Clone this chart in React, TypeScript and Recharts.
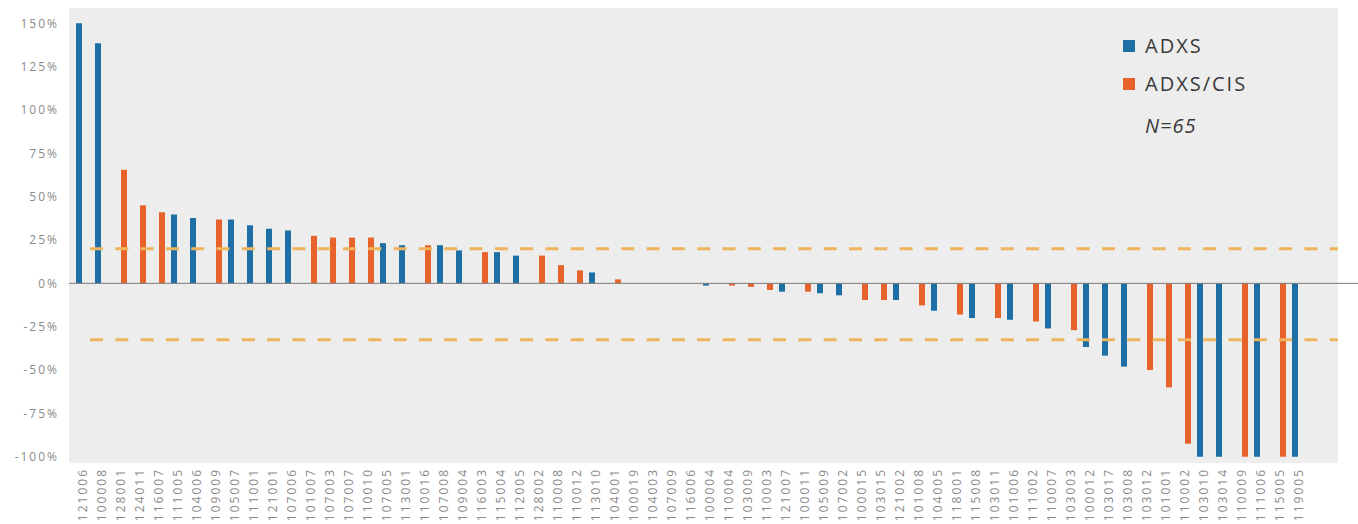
import React from 'react';
import { BarChart, Bar, XAxis, YAxis, CartesianGrid, ReferenceLine, Legend } from 'recharts';

const patients = [
  '121006', '100008', '128001', '124011', '116007', '111005', '104006', '109009', '105007', '111001',
  '121001', '107006', '101007', '107003', '107007', '110010', '107005', '113001', '110016', '107008',
  '109004', '116003', '115004', '112005', '128002', '110008', '110012', '113010', '104001', '100019',
  '104003', '107009', '116006', '100004', '110004', '103009', '110003', '121007', '100011', '105009',
  '107002', '100015', '103015', '121002', '101008', '104005', '118001', '115008', '103011', '101006',
  '111002', '110007', '103003', '100012', '103017', '103008', '103012', '101001', '110002', '103010',
  '103014', '110009', '111006', '115005', '119005',
];

const adxs: (number | null)[] = [
  150, 138.5, null, null, null, 39.7, 37.7, null, 36.8, 33.5,
  31.5, 30.5, null, null, null, null, 23.2, 22, null, 22,
  19, null, 18, 16, null, null, null, 6.3, null, 0,
  0, 0, 0, -1.3, null, null, null, -4.8, null, -5.7,
  -6.9, null, null, -9.6, null, -15.8, null, -20, null, -21,
  null, -26, null, -36.7, -41.7, -48, null, null, null, -100,
  -100, null, -100, null, -100,
];

const adxsCis: (number | null)[] = [
  null, null, 65.5, 45, 41, null, null, 36.8, null, null,
  null, null, 27.4, 26.4, 26.4, 26.4, null, null, 22, null,
  null, 18, null, null, 16, 10.5, 7.5, null, 2.3, null,
  null, null, null, null, -1.3, -2, -3.8, null, -4.8, null,
  null, -9.6, -9.6, null, -12.7, null, -18, null, -20, null,
  -22, null, -27, null, null, null, -50, -60, -92.5, null,
  null, -100, null, -100, null,
];

const yTicks = [-100, -75, -50, -25, 0, 25, 50, 75, 100, 125, 150];
const upperThreshold = 20;
const lowerThreshold = -32.5;
const seriesNames = ['ADXS', 'ADXS/CIS'];
const sampleNote = 'N=65';

const BLUE = '#1D6FA5';
const ORANGE = '#E8622C';
const DASH = '#EFB45E';
const TICK = '#8a8a8a';

const data = patients.map((p, i) => ({ patient: p, adxs: adxs[i], adxsCis: adxsCis[i] }));

const RotatedTick = (props: any) => {
  const { x, y, payload } = props;
  return (
    <text
      x={x}
      y={y}
      transform={`rotate(-90, ${x}, ${y})`}
      textAnchor="end"
      dy="0.35em"
      fill={TICK}
      fontSize={12}
      fontFamily="'Open Sans', sans-serif"
      style={{ letterSpacing: '2px' }}
    >
      {payload.value}
    </text>
  );
};

const ZeroLine = (p: any) => (
  <line x1={p.x1} y1={p.y1} x2={p.x2 + 20} y2={p.y2} stroke="#7a7a7a" strokeWidth={1} />
);

const DashLine = (p: any) => (
  <line
    x1={p.x1 + 21}
    y1={p.y1}
    x2={p.x2}
    y2={p.y2}
    stroke={DASH}
    strokeWidth={3}
    strokeDasharray="13 12.3"
  />
);

const LegendContent = () => (
  <div
    style={{
      fontFamily: "'Open Sans', sans-serif",
      fontSize: 20,
      letterSpacing: '2px',
      color: '#3a3a3a',
      lineHeight: '38px',
    }}
  >
    {seriesNames.map((n, i) => (
      <div key={n} style={{ display: 'flex', alignItems: 'center', height: 38 }}>
        <span
          style={{
            display: 'inline-block',
            width: 12,
            height: 12,
            background: i === 0 ? BLUE : ORANGE,
            marginRight: 10,
          }}
        />
        <span>{n}</span>
      </div>
    ))}
    <div style={{ fontStyle: 'italic', paddingLeft: 22, marginTop: 4, letterSpacing: '1px' }}>{sampleNote}</div>
  </div>
);

export default function App() {
  return (
    <div style={{ position: 'absolute', left: 0, top: 0, width: 1358, height: 524, background: '#ffffff' }}>
      <BarChart
        width={1358}
        height={524}
        data={data}
        margin={{ top: 8, right: 20, bottom: 0, left: 0 }}
        barGap={1}
      >
        <CartesianGrid fill="#ededed" horizontal={false} vertical={false} />
        <XAxis
          dataKey="patient"
          interval={0}
          height={61}
          axisLine={false}
          tickLine={false}
          tickSize={0}
          tickMargin={5}
          padding={{ left: 4, right: 30 }}
          tick={<RotatedTick />}
        />
        <YAxis
          width={69}
          type="number"
          domain={[-103.6, 158.8]}
          ticks={yTicks}
          axisLine={false}
          tickLine={false}
          tickSize={0}
          tickMargin={10}
          tickFormatter={(v: number) => `${v}%`}
          tick={{ fill: TICK, fontSize: 12, fontFamily: "'Open Sans', sans-serif", style: { letterSpacing: '2px' } }}
        />
        <Legend
          layout="horizontal"
          verticalAlign="middle"
          align="center"
          content={<LegendContent />}
          wrapperStyle={{ position: 'absolute', left: 1123, top: 27, width: 200, height: 130 }}
        />
        <Bar dataKey="adxs" name={seriesNames[0]} fill={BLUE} barSize={6} isAnimationActive={false} />
        <Bar dataKey="adxsCis" name={seriesNames[1]} fill={ORANGE} barSize={6} isAnimationActive={false} />
        <ReferenceLine y={0} shape={ZeroLine} ifOverflow="visible" />
        <ReferenceLine y={upperThreshold} shape={DashLine} />
        <ReferenceLine y={lowerThreshold} shape={DashLine} />
      </BarChart>
    </div>
  );
}
